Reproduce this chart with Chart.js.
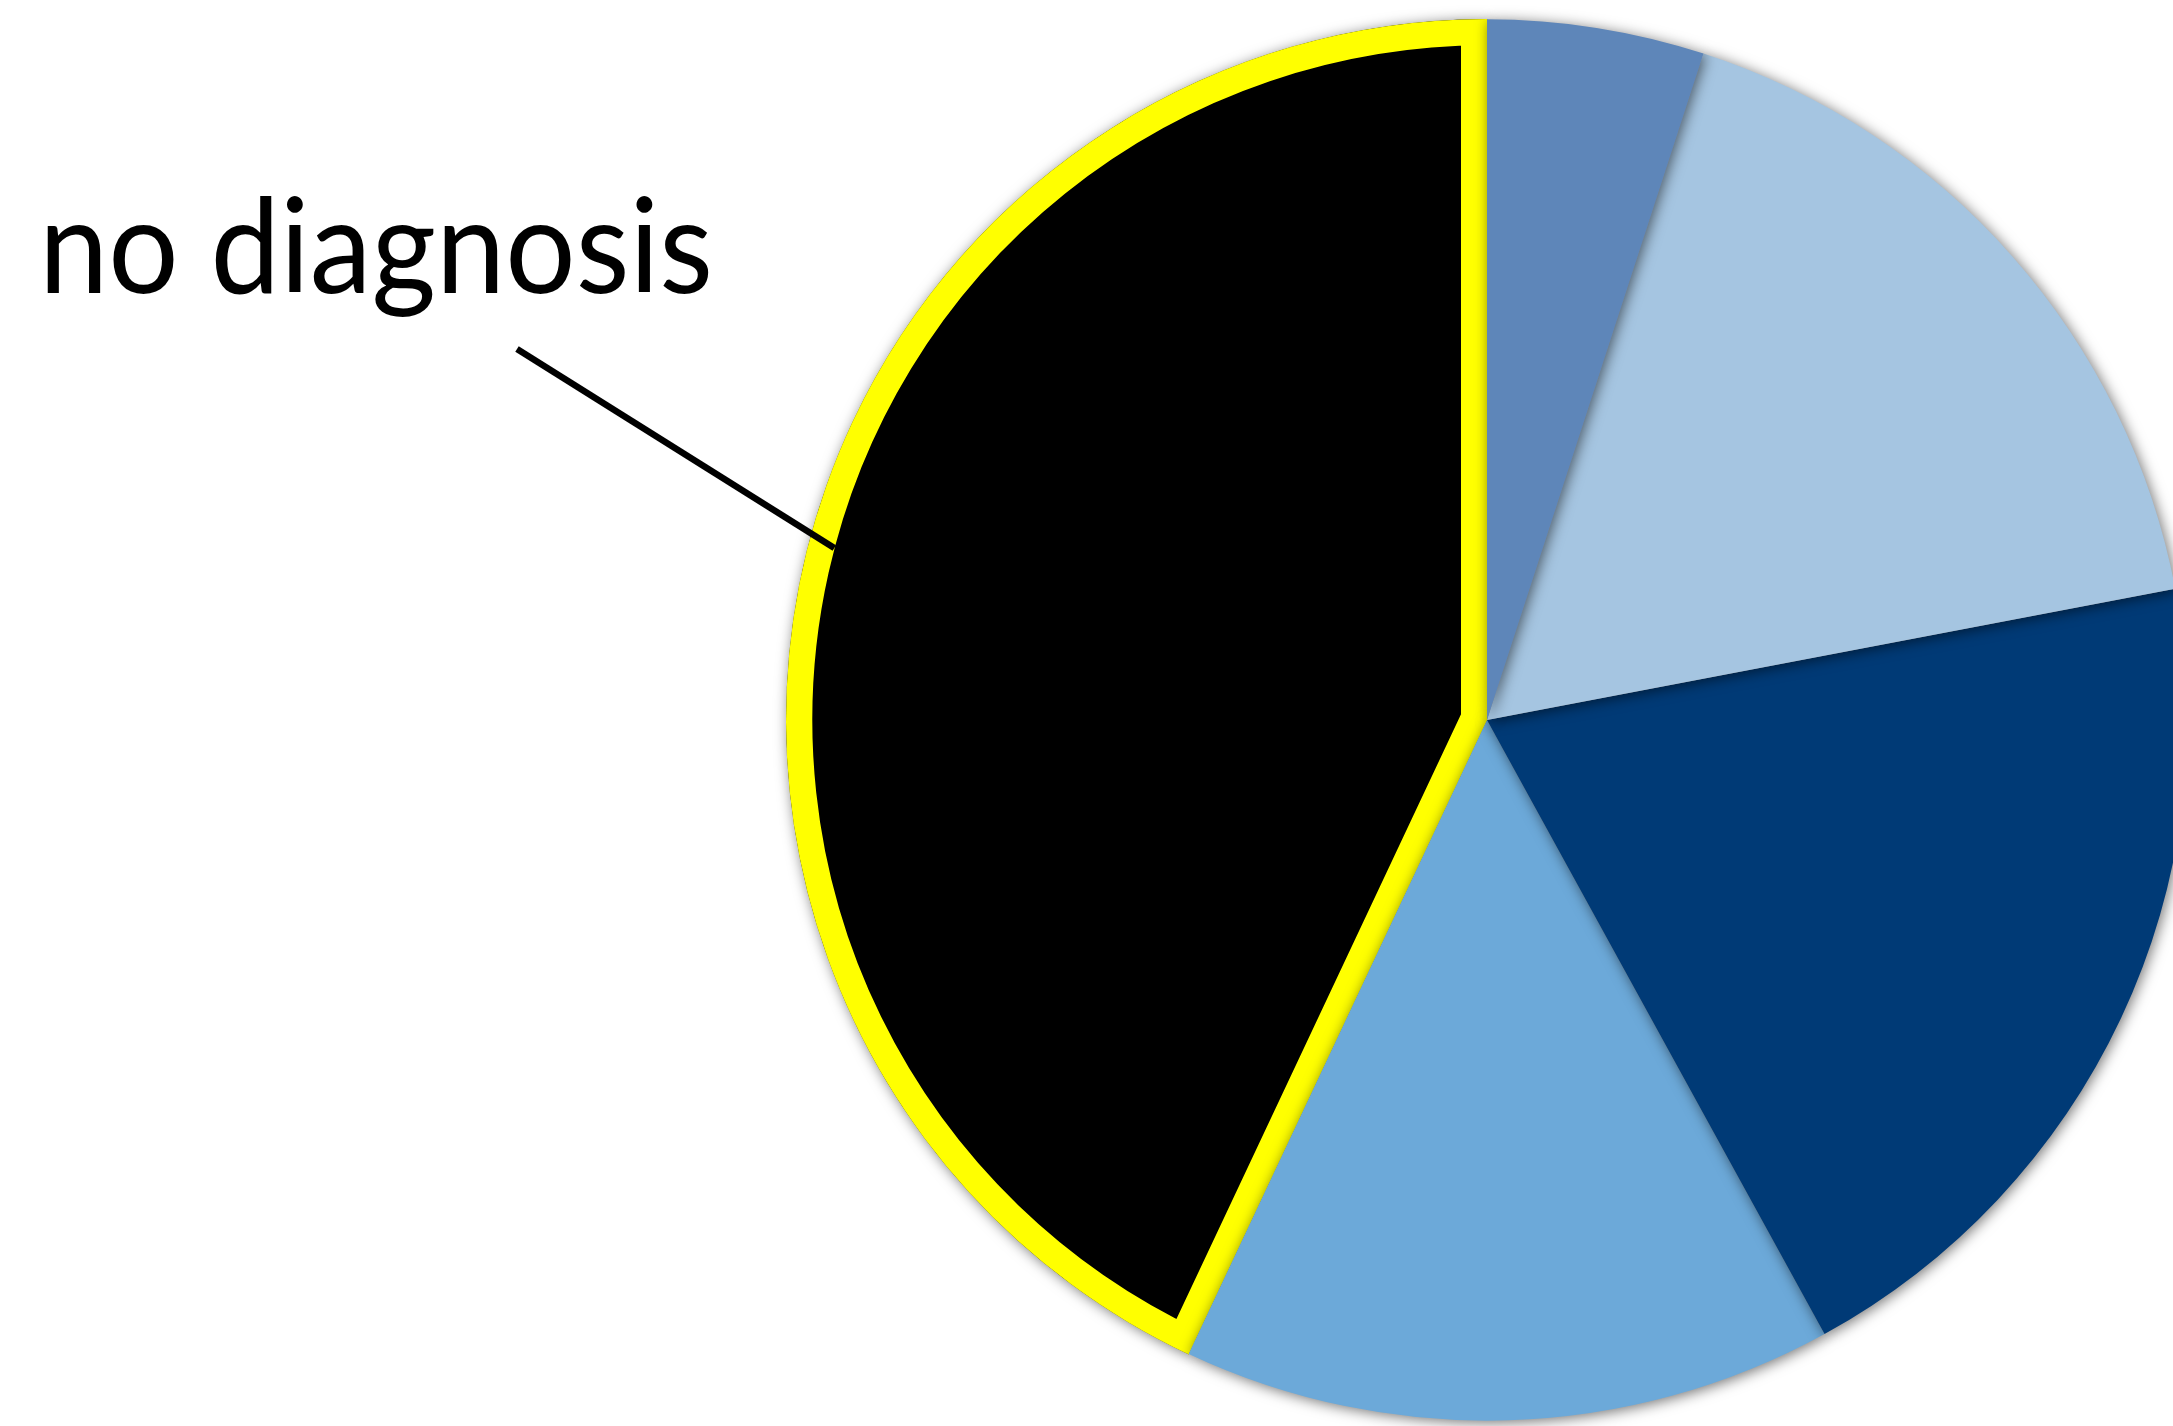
<!DOCTYPE html>
<html>
<head>
<meta charset="utf-8">
<script src="https://cdn.jsdelivr.net/npm/chart.js@4.4.0/dist/chart.umd.min.js"></script>
<style>
  html, body { margin: 0; padding: 0; background: #fff; overflow: hidden; }
  #wrap { position: absolute; left: 0; top: 0; width: 2240px; height: 1426px; }
</style>
</head>
<body>
<div id="wrap"><canvas id="pie"></canvas></div>
<script>
// slices, clockwise from 12 o'clock
var categories = ['a', 'b', 'c', 'd', 'no diagnosis'];
var values = [5, 17, 20, 15, 43];
var colors = ['#5e86b9', '#a5c5e1', '#003a76', '#6ca9d9', '#000000'];
var borders = [0, 0, 0, 0, 26];

var labelIndex = 4;     // slice that gets the callout
var leaderAt = 0.514;   // position of the leader end along the slice arc

// draw slices last-to-first with a soft shadow, like the original
var shadowPie = {
  id: 'shadowPie',
  beforeDatasetsDraw: function(chart) {
    var ctx = chart.ctx;
    var meta = chart.getDatasetMeta(0);
    ctx.save();
    ctx.shadowColor = 'rgba(0,0,0,0.55)';
    ctx.shadowBlur = 14;
    ctx.shadowOffsetX = 2;
    ctx.shadowOffsetY = 2;
    for (var i = meta.data.length - 1; i >= 0; i--) {
      meta.data[i].draw(ctx, chart.chartArea);
    }
    ctx.restore();
    return false;
  }
};

// callout text + leader line
var callout = {
  id: 'callout',
  afterDraw: function(chart) {
    var ctx = chart.ctx;
    var arc = chart.getDatasetMeta(0).data[labelIndex];
    var a = arc.startAngle + (arc.endAngle - arc.startAngle) * leaderAt;
    var r = arc.outerRadius - borders[labelIndex];
    var ex = arc.x + Math.cos(a) * r;
    var ey = arc.y + Math.sin(a) * r;

    ctx.save();
    ctx.fillStyle = '#000';
    ctx.font = '132px Lato';
    ctx.textBaseline = 'alphabetic';
    var w = ctx.measureText(categories[labelIndex]).width;
    var sx = 674 / w;
    ctx.translate(39, 293);
    ctx.scale(sx, 1);
    ctx.fillText(categories[labelIndex], 0, 0);
    ctx.restore();

    ctx.save();
    ctx.strokeStyle = '#000';
    ctx.lineWidth = 6.5;
    ctx.beginPath();
    ctx.moveTo(517, 349);
    ctx.lineTo(ex, ey);
    ctx.stroke();
    ctx.restore();
  }
};

var ctx = document.getElementById('pie');
var chart = new Chart(ctx, {
  type: 'pie',
  data: {
    labels: categories,
    datasets: [{
      data: values,
      backgroundColor: colors,
      borderColor: '#ffff00',
      borderWidth: borders,
      borderAlign: 'inner',
      borderJoinStyle: 'round',
      radius: 701
    }]
  },
  options: {
    responsive: true,
    maintainAspectRatio: false,
    animation: false,
    layout: { padding: { left: 734, right: 0, top: 14, bottom: 0 } },
    plugins: {
      legend: { display: false },
      tooltip: { enabled: false }
    },
    events: []
  },
  plugins: [shadowPie, callout]
});
</script>
</body>
</html>
